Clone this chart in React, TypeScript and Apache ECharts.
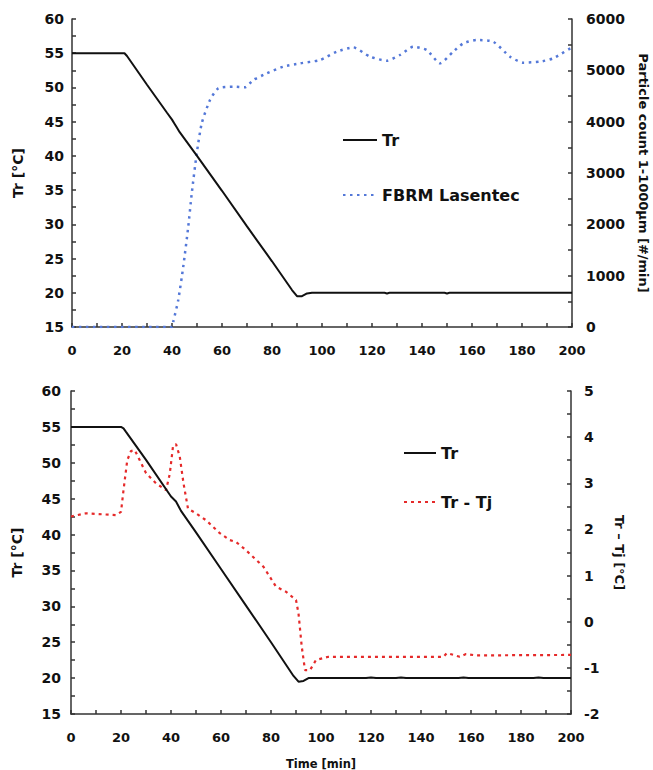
import React, { useEffect, useRef } from "react";
import * as echarts from "echarts";

const xTicks = [0, 20, 40, 60, 80, 100, 120, 140, 160, 180, 200];

const trTop: [number, number][] = [
  [0, 55], [21, 55], [22, 54.6], [30, 50.4], [38, 46.3], [40, 45.3], [41, 44.7],
  [42, 44.1], [43, 43.5], [50, 40], [60, 34.9], [70, 29.7], [80, 24.6], [88, 20.4],
  [90, 19.5], [92, 19.5], [94, 19.9], [96, 20], [125, 20], [126, 19.9], [127, 20],
  [149, 20], [150, 19.9], [151, 20], [200, 20],
];

const fbrm: [number, number][] = [
  [0, 0], [40, 0], [40.5, 100], [42.5, 526], [44.5, 1175], [46.5, 1953], [47.9, 2604],
  [49.9, 3383], [51.9, 3968], [55.2, 4422], [58.5, 4650], [64.5, 4682], [69.2, 4670],
  [72.5, 4811], [77.9, 4941], [84.5, 5071], [91.2, 5136], [99.2, 5201], [105.9, 5363],
  [112.5, 5448], [119.2, 5266], [125.9, 5188], [131.2, 5299], [136.5, 5460],
  [141.9, 5396], [147.2, 5136], [152.5, 5363], [156.5, 5526], [161.9, 5591],
  [168.5, 5558], [175.2, 5266], [180.5, 5149], [187.2, 5169], [192.5, 5234],
  [200, 5450],
];

const trBottom: [number, number][] = [
  [0, 55], [20, 55], [21, 54.8], [22, 54.3], [30, 50.4], [40, 45.3], [42, 44.6],
  [44, 43.3], [50, 40.3], [60, 35.2], [70, 30.1], [80, 25], [89, 20.3], [91, 19.5],
  [93, 19.6], [95, 20], [118, 20], [120, 20.1], [122, 20], [130, 20], [132, 20.1],
  [134, 20], [155, 20], [157, 20.1], [159, 20], [185, 20], [187, 20.1], [189, 20],
  [200, 20],
];

const trTj: [number, number][] = [
  [0, 2.28], [6, 2.35], [18, 2.31], [20, 2.38], [21, 2.85], [22.5, 3.5], [24, 3.7],
  [25.5, 3.72], [27.5, 3.5], [30, 3.22], [34, 3.0], [38, 2.85], [39.5, 3.2],
  [40.8, 3.8], [42, 3.85], [43.5, 3.58], [45, 3.0], [46.8, 2.45], [50, 2.35],
  [54, 2.2], [59.5, 1.92], [63.5, 1.77], [66, 1.73], [70, 1.55], [77, 1.19],
  [82, 0.76], [86, 0.65], [90, 0.47], [91, 0.18], [92.3, -0.54], [93.6, -1.05],
  [95.6, -1.05], [98, -0.83], [103, -0.76], [149, -0.76], [150.3, -0.68],
  [153, -0.72], [155.5, -0.76], [158, -0.7], [162, -0.73], [200, -0.72],
];

const FONT = "DejaVu Sans";
const AXIS_COLOR = "#333";
const BLUE = "#5478d8";
const RED = "#e52a2a";

function xAxisDef(gridIndex: number, withName: boolean) {
  return {
    type: "value",
    gridIndex,
    min: xTicks[0],
    max: xTicks[xTicks.length - 1],
    interval: xTicks[1] - xTicks[0],
    name: withName ? "Time [min]" : "",
    nameLocation: "middle",
    nameGap: 44,
    nameTextStyle: { fontFamily: FONT, fontWeight: "bold", fontSize: 11.5, color: "#111" },
    axisLine: { show: true, onZero: false, lineStyle: { color: AXIS_COLOR, width: 1.5 } },
    axisTick: { show: true, inside: true, length: 4, lineStyle: { color: AXIS_COLOR, width: 1.5 } },
    minorTick: { show: true, splitNumber: 2, length: 4, lineStyle: { color: AXIS_COLOR, width: 1.5 } },
    axisLabel: { margin: 17, fontFamily: FONT, fontWeight: "bold", fontSize: 13, color: "#111" },
    splitLine: { show: false },
    minorSplitLine: { show: false },
  };
}

function yAxisDef(
  gridIndex: number,
  position: "left" | "right",
  min: number,
  max: number,
  interval: number,
  name: string,
  nameGap: number,
  margin: number
) {
  return {
    type: "value",
    gridIndex,
    position,
    min,
    max,
    interval,
    name,
    nameLocation: "middle",
    nameGap,
    nameRotate: position === "left" ? 90 : -90,
    nameTextStyle: { fontFamily: FONT, fontWeight: "bold", fontSize: position === "left" ? 14 : 13, color: "#111" },
    axisLine: { show: true, onZero: false, lineStyle: { color: AXIS_COLOR, width: 1.5 } },
    axisTick: { show: true, inside: true, length: 4, lineStyle: { color: AXIS_COLOR, width: 1.5 } },
    minorTick: { show: true, splitNumber: 2, length: 4, lineStyle: { color: AXIS_COLOR, width: 1.5 } },
    axisLabel: {
      margin,
      fontFamily: FONT,
      fontWeight: "bold",
      fontSize: 14,
      color: "#111",
      formatter: (v: number) => String(v),
    },
    splitLine: { show: false },
    minorSplitLine: { show: false },
  };
}

const legendText = { fontFamily: FONT, fontWeight: "bold", fontSize: 16, color: "#111" };
const hiddenSymbol = { color: "transparent", borderWidth: 0, opacity: 0 };

export default function App() {
  const ref = useRef<HTMLDivElement>(null);

  useEffect(() => {
    document.body.style.margin = "0";
    if (!ref.current) return;
    const chart = echarts.init(ref.current, undefined, { renderer: "svg" });
    chart.setOption({
      animation: false,
      backgroundColor: "#fff",
      grid: [
        { left: 72, right: 81, top: 19, height: 308, outerBoundsMode: "none", containLabel: false },
        { left: 71, right: 82, top: 391, height: 323, outerBoundsMode: "none", containLabel: false },
      ],
      xAxis: [xAxisDef(0, false), xAxisDef(1, true)],
      yAxis: [
        yAxisDef(0, "left", 15, 60, 5, "Tr [°C]", 47, 8),
        yAxisDef(0, "right", 0, 6000, 1000, "Particle count 1-1000µm [#/min]", 65, 14),
        yAxisDef(1, "left", 15, 60, 5, "Tr [°C]", 47, 10),
        yAxisDef(1, "right", -2, 5, 1, "Tr – Tj [°C]", 42, 13),
      ],
      legend: [
        {
          orient: "vertical",
          left: 342,
          top: 132,
          padding: 0,
          itemWidth: 34,
          itemHeight: 14,
          itemGap: 39,
          data: ["Tr", "FBRM Lasentec"],
          itemStyle: hiddenSymbol,
          textStyle: legendText,
        },
        {
          orient: "vertical",
          left: 403,
          top: 445,
          padding: 0,
          itemWidth: 32,
          itemHeight: 14,
          itemGap: 33,
          data: ["Tr", "Tr - Tj"],
          itemStyle: hiddenSymbol,
          textStyle: legendText,
        },
      ],
      series: [
        {
          name: "FBRM Lasentec",
          type: "line",
          xAxisIndex: 0,
          yAxisIndex: 1,
          data: fbrm,
          symbol: "none",
          smooth: 0.2,
          lineStyle: { color: BLUE, width: 2.5, type: [2.5, 4.5] },
          itemStyle: { color: BLUE },
        },
        {
          name: "Tr",
          type: "line",
          xAxisIndex: 0,
          yAxisIndex: 0,
          data: trTop,
          symbol: "none",
          lineStyle: { color: "#111", width: 2 },
          itemStyle: { color: "#111" },
        },
        {
          name: "Tr - Tj",
          type: "line",
          xAxisIndex: 1,
          yAxisIndex: 3,
          data: trTj,
          symbol: "none",
          lineStyle: { color: RED, width: 2.2, type: [3, 4] },
          itemStyle: { color: RED },
        },
        {
          name: "Tr",
          type: "line",
          xAxisIndex: 1,
          yAxisIndex: 2,
          data: trBottom,
          symbol: "none",
          lineStyle: { color: "#111", width: 2 },
          itemStyle: { color: "#111" },
        },
      ],
    });
    return () => chart.dispose();
  }, []);

  return (
    <div
      ref={ref}
      style={{ position: "absolute", left: 0, top: 0, width: 653, height: 770 }}
    />
  );
}
